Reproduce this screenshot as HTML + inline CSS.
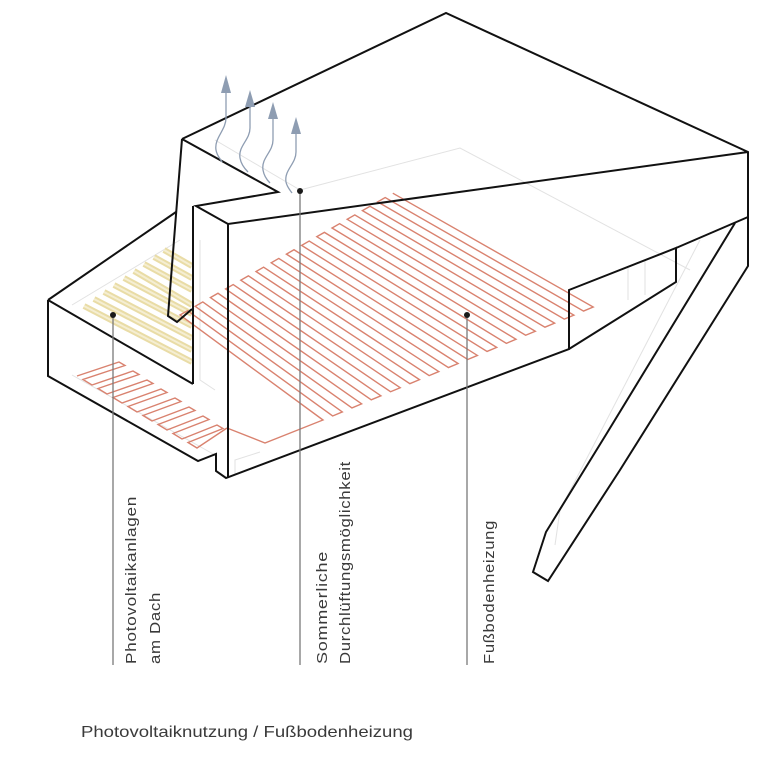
<!DOCTYPE html>
<html><head><meta charset="utf-8"><style>
html,body{margin:0;padding:0;background:#fff}
svg{display:block}
text{font-family:"Liberation Sans",sans-serif;fill:#3a3a3a}
</style></head><body>
<svg width="780" height="769" viewBox="0 0 780 769" xmlns="http://www.w3.org/2000/svg">
<!-- faint construction lines -->
<g stroke="#e2e2e2" stroke-width="1" fill="none">
<path d="M300,190 L460,148 L690,270"/>
<path d="M200,240 L200,380 L215,390"/>
<path d="M72,305 L180,240"/>
<path d="M72,375 L215,455"/>
<path d="M235,475 L235,460 L260,452"/>
<path d="M215,140 L300,190"/>
<path d="M628,268 L628,300 M645,260 L645,295"/>
<path d="M700,240 L560,510 L555,545"/>
</g>
<!-- PV panels -->
<g stroke="#e9dca6" stroke-width="6" stroke-linecap="butt">
<path d="M84,306 L192,362"/><path d="M94,299 L192,350"/><path d="M104,292 L192,338"/>
<path d="M114,285 L192,326"/><path d="M124,278 L192,314"/><path d="M134,271 L192,305"/>
<path d="M144,264 L192,290"/><path d="M154,257 L192,278"/><path d="M164,250 L192,266"/>
</g>
<g stroke="#f5eed2" stroke-width="2">
<path d="M84,306 L192,362"/><path d="M94,299 L192,350"/><path d="M104,292 L192,338"/>
<path d="M114,285 L192,326"/><path d="M124,278 L192,314"/><path d="M134,271 L192,305"/>
<path d="M144,264 L192,290"/><path d="M154,257 L192,278"/><path d="M164,250 L192,266"/>
</g>
<!-- floor heating big -->
<path fill="none" stroke="#d9826f" stroke-width="1.4" stroke-linejoin="miter" d="
M227,428 L265,443 L323,420
L180,315 L187.6,310.65 L332.65,415.97
L342.3,411.93 L195.2,306.3 L202.8,301.95 L351.95,407.9
L361.6,403.86 L210.4,297.6 L218,293.25 L371.25,399.83
L380.9,395.79 L225.6,288.9 L233.2,284.55 L390.55,391.76
L400.2,387.72 L240.8,280.2 L248.4,275.85 L409.85,383.69
L419.5,379.65 L256,271.5 L263.6,267.15 L429.15,375.62
L438.8,371.58 L271.2,262.8 L278.8,258.45 L448.45,367.55
L458.1,363.51 L286.4,254.1 L294,249.75 L467.75,359.48
L477.4,355.44 L301.6,245.4 L309.2,241.05 L487.05,351.41
L496.7,347.37 L316.8,236.7 L324.4,232.35 L506.35,343.34
L516,339.3 L332,228 L339.6,223.65 L525.65,335.27
L535.3,331.23 L347.2,219.3 L354.8,214.95 L544.95,327.2
L554.6,323.16 L362.4,210.6 L370,206.25 L564.25,319.13
L573.9,315.09 L377.6,201.9 L385.2,197.55 L583.55,311.06
L593.2,307.02 L392.8,193.2"/>
<!-- small heating -->
<path fill="none" stroke="#d9826f" stroke-width="1.4" d="
M77,376 L119,362 L125,365.5 L83,379.5
L92,385 L133,371 L139,374.5 L98,388.5
L107,394 L147,380 L153,383.5 L113,397.5
L122,403 L161,389 L167,392.5 L128,406.5
L137,412 L175,398 L181,401.5 L143,415.5
L152,421 L189,407 L195,410.5 L158,424.5
L167,430 L203,416 L209,419.5 L173,433.5
L182,439 L217,425 L223,428.5 L188,442.5
L197,448 L227,428"/>
<!-- main outlines -->
<g fill="none" stroke="#111" stroke-width="2" stroke-linejoin="miter">
<path d="M182,139 L446,13 L748,152 L748,217"/>
<path d="M182,139 L278,192 L196,206 L228,224 L748,152"/>
<path d="M182,139 L168,316 L177,322 L192,309"/>
<path d="M193,206 L193,384"/>
<path d="M48,300 L176,212"/>
<path d="M48,300 L48,376 L198,461 L216,454 L216,471 L226,478 L569,349 L569,290 L676,248 L676,282 L569,349"/>
<path d="M48,300 L193,384"/>
<path d="M228,224 L228,478"/>
<path d="M676,248 L748,217"/>
<path d="M748,217 L748,266 L620,470 L548,581 L533,572 L546,532 L607,433 L735,223"/>
</g>
<!-- vent arrows -->
<g fill="none" stroke="#8e9db2" stroke-width="1.3">
<path d="M226,90 L226,118 C226,130 214,138 216,150 C217,156 220,158 222,162"/>
<path d="M250,104 L250,128 C250,140 238,146 240,158 C241,164 244,168 248,172"/>
<path d="M273,116 L273,140 C273,152 261,158 263,170 C264,176 267,180 270,183"/>
<path d="M296,130 L296,152 C296,164 284,170 286,182 C287,187 290,190 292,193"/>
</g>
<g fill="#8e9db2">
<path d="M226,75 L221,93 L231,93Z"/><path d="M250,90 L245,107 L255,107Z"/>
<path d="M273,102 L268,119 L278,119Z"/><path d="M296,117 L291,134 L301,134Z"/>
</g>
<!-- leaders -->
<g stroke="#7a7a7a" stroke-width="1.3">
<path d="M113,315 L113,665"/><path d="M300,191 L300,665"/><path d="M467,315 L467,665"/>
</g>
<g fill="#1a1a1a"><circle cx="113" cy="315" r="3"/><circle cx="300" cy="191" r="3"/><circle cx="467" cy="315" r="3"/></g>
<!-- labels -->
<g font-size="15" letter-spacing="0.6">
<text transform="translate(136,664) rotate(-90)" textLength="168" lengthAdjust="spacingAndGlyphs">Photovoltaikanlagen</text>
<text transform="translate(160,664) rotate(-90)" textLength="72" lengthAdjust="spacingAndGlyphs">am Dach</text>
<text transform="translate(327,664) rotate(-90)" textLength="113" lengthAdjust="spacingAndGlyphs">Sommerliche</text>
<text transform="translate(350,664) rotate(-90)" textLength="203" lengthAdjust="spacingAndGlyphs">Durchlüftungsmöglichkeit</text>
<text transform="translate(494,664) rotate(-90)" textLength="144" lengthAdjust="spacingAndGlyphs">Fußbodenheizung</text>
</g>
<text x="81" y="737" font-size="16" textLength="332" lengthAdjust="spacingAndGlyphs">Photovoltaiknutzung / Fußbodenheizung</text>
</svg>
</body></html>
